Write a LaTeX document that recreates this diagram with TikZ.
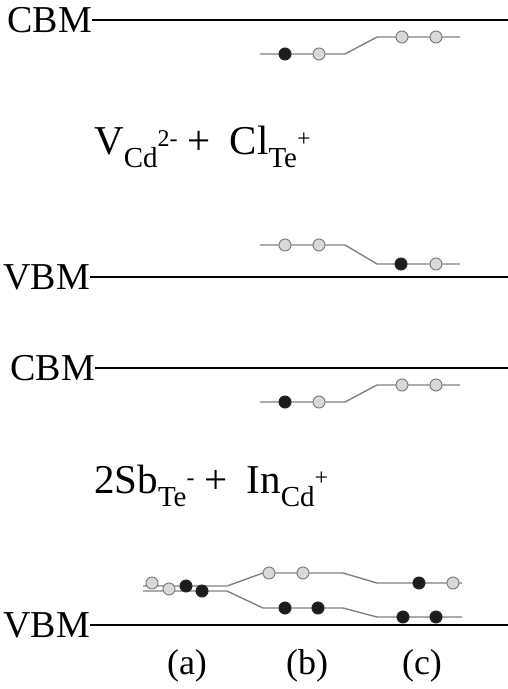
\documentclass[tikz,border=0pt]{standalone}
\usepackage{fontspec}
\setmainfont{Liberation Serif}
\usepackage{tikz}
\usetikzlibrary{positioning}
\definecolor{lvlgray}{HTML}{808080}
\definecolor{holefill}{HTML}{D9D9D9}
\definecolor{elecfill}{HTML}{1C1C1C}
\newcommand{\lowidx}[1]{\raisebox{-13pt}{\fontsize{29}{29}\selectfont #1}}
\newcommand{\highidx}[1]{\raisebox{8pt}{\fontsize{24}{24}\selectfont #1}}
\newcommand{\plusgap}{\hspace{10pt}+\hspace{19pt}}
\tikzset{
  band/.style={line width=2.2pt, draw=black},
  bandlabel/.style={font=\fontsize{38}{40}\selectfont, inner sep=0pt, anchor=east},
  defect/.style={font=\fontsize{41}{43}\selectfont, inner sep=0pt, anchor=base west},
  level/.style={line width=1.4pt, draw=lvlgray},
  empty/.style={circle, draw=lvlgray, fill=holefill, line width=1pt, minimum size=12pt, inner sep=0pt},
  full/.style={circle, draw=black!85, fill=elecfill, line width=1pt, minimum size=12pt, inner sep=0pt},
  col/.style={font=\fontsize{36}{38}\selectfont, inner sep=0pt},
}

\begin{document}
\begin{tikzpicture}[x=1pt, y=-1pt]
    \useasboundingbox (0,0) rectangle (508,689);

    % upper panel: V_Cd + Cl_Te
    \node[bandlabel] (cbm1) at (92,20) {CBM};
    \coordinate (cbm1r) at (508,20);
    \draw[band] (cbm1.east) -- (cbm1r);
    \node[bandlabel] (vbm1) at (90,277) {VBM};
    \coordinate (vbm1r) at (508,277);
    \draw[band] (vbm1.east) -- (vbm1r);
    \node[defect] (pair1) at (94,154) {V\lowidx{Cd}\highidx{2-}\plusgap Cl\lowidx{Te}\highidx{+}};

    \draw[level] (260,54) -- (345,54) -- (377,37) -- (460,37);
    \draw[level] (260,245) -- (345,245) -- (377,264) -- (460,264);
    \node[full]  (u1) at (285,54) {};
    \node[empty] (u2) at (319,54) {};
    \node[empty] (u3) at (402,37) {};
    \node[empty] (u4) at (436,37) {};
    \node[empty] (d1) at (285,245) {};
    \node[empty] (d2) at (319,245) {};
    \node[full]  (d3) at (401,264) {};
    \node[empty] (d4) at (436,264) {};

    % lower panel: Sb_Te + In_Cd
    \node[bandlabel] (cbm2) at (95,368) {CBM};
    \coordinate (cbm2r) at (508,368);
    \draw[band] (cbm2.east) -- (cbm2r);
    \node[bandlabel] (vbm2) at (90,625) {VBM};
    \coordinate (vbm2r) at (508,625);
    \draw[band] (vbm2.east) -- (vbm2r);
    \node[defect] (pair2) at (94,493) {2Sb\lowidx{Te}\highidx{-}\plusgap In\lowidx{Cd}\highidx{+}};

    \draw[level] (260,402) -- (345,402) -- (377,385) -- (460,385);
    \node[full]  (c1) at (285,402) {};
    \node[empty] (c2) at (319,402) {};
    \node[empty] (c3) at (402,385) {};
    \node[empty] (c4) at (436,385) {};

    \draw[level] (143,586) -- (227,586) -- (263,573) -- (343,573) -- (377,583) -- (462,583);
    \draw[level] (143,591) -- (227,591) -- (263,608) -- (343,608) -- (377,617) -- (462,617);
    \node[empty] (a1) at (152,583) {};
    \node[empty] (a2) at (169,589) {};
    \node[full]  (a3) at (186,586) {};
    \node[full]  (a4) at (202,591) {};
    \node[empty] (b1) at (269,573) {};
    \node[empty] (b2) at (303,573) {};
    \node[full]  (b3) at (285,608) {};
    \node[full]  (b4) at (318,608) {};
    \node[full]  (e1) at (419,583) {};
    \node[empty] (e2) at (453,583) {};
    \node[full]  (e3) at (403,617) {};
    \node[full]  (e4) at (436,617) {};

    \node[col] (cola) at (187,666) {(a)};
    \node[col] (colb) at (307,666) {(b)};
    \node[col] (colc) at (422,666) {(c)};
  \end{tikzpicture}
\end{document}
